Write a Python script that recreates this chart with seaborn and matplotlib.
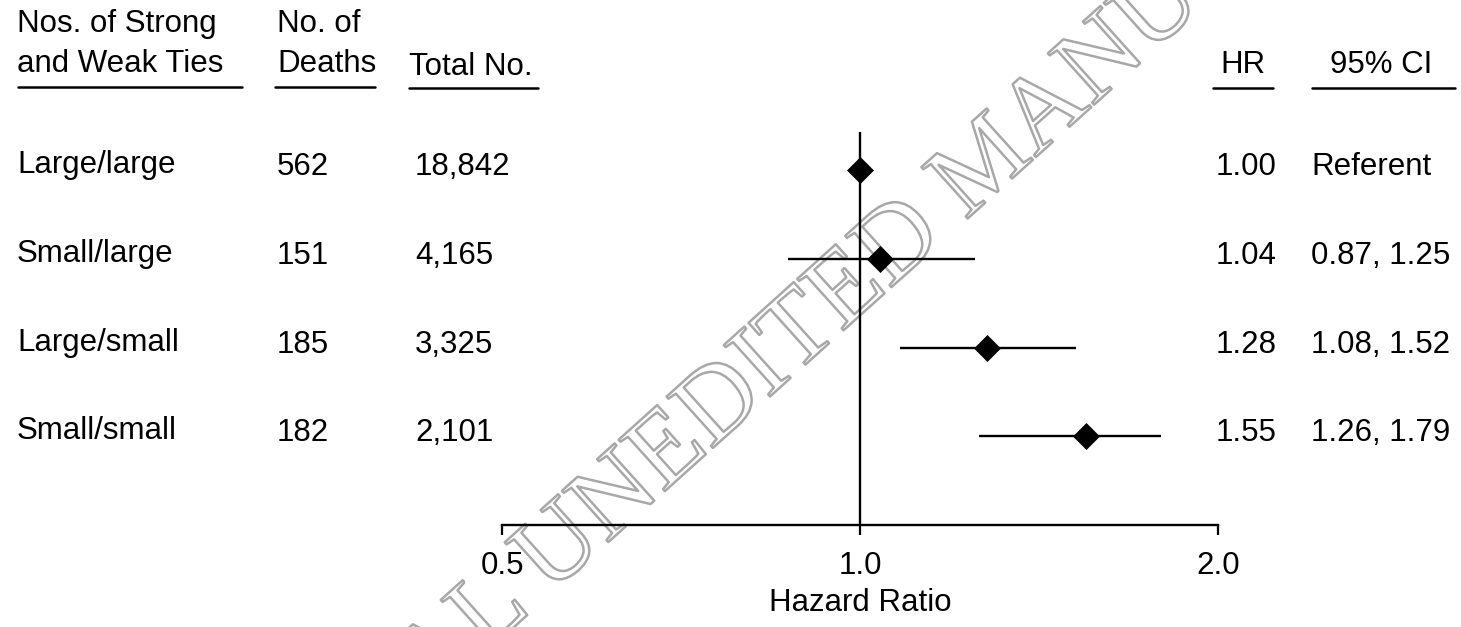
import matplotlib
matplotlib.use("Agg")
import matplotlib.pyplot as plt
import matplotlib.patheffects as pe
from matplotlib.lines import Line2D
from matplotlib.ticker import NullLocator
from matplotlib.transforms import blended_transform_factory, offset_copy
import pandas as pd
import seaborn as sns

# Table / forest-plot data
groups = ["Large/large", "Small/large", "Large/small", "Small/small"]
deaths = [562, 151, 185, 182]
totals = [18842, 4165, 3325, 2101]
hazard_ratio = [1.00, 1.04, 1.28, 1.55]
ci_low = [None, 0.87, 1.08, 1.26]
ci_high = [None, 1.25, 1.52, 1.79]
x_ticks = [0.5, 1.0, 2.0]
x_tick_labels = ["0.5", "1.0", "2.0"]

sns.set_theme(style="white")
plt.rcParams["font.family"] = ["Liberation Sans", "DejaVu Sans"]
plt.rcParams["text.color"] = "black"

W, H = 1461, 627
FS = 22.5
fig = plt.figure(figsize=(W / 100, H / 100), dpi=100)
fig.patch.set_facecolor("white")


def fx(px):
    return px / W


def fy(py):
    return 1 - py / H


# Forest plot panel
ax = fig.add_axes([fx(502), fy(525), (1218 - 502) / W, (525 - 132) / H])
ax.patch.set_alpha(0)
ax.set_xscale("log")

df = pd.DataFrame({
    "group": groups,
    "row": range(len(groups)),
    "hr": hazard_ratio,
    "lo": ci_low,
    "hi": ci_high,
})

ax.axvline(1.0, color="black", lw=1.7, zorder=1)
ci = df.dropna(subset=["lo", "hi"])
ax.hlines(ci["row"], ci["lo"], ci["hi"], color="black", lw=1.7, zorder=2)
sns.scatterplot(data=df, x="hr", y="row", marker="D", s=175, color="black",
                edgecolor="black", linewidth=0.5, zorder=3, legend=False, ax=ax)

ax.set_xlim(0.5, 2.0)
ax.set_ylim(4.0, -0.43)
ax.set_xticks(x_ticks)
ax.set_xticklabels(x_tick_labels)
ax.xaxis.set_minor_locator(NullLocator())
ax.set_yticks([])
ax.set_ylabel("")
ax.tick_params(axis="x", bottom=True, direction="out", length=7, width=1.6,
               pad=12, labelsize=FS, colors="black")
for side in ["top", "right", "left"]:
    ax.spines[side].set_visible(False)
ax.spines["bottom"].set_color("black")
ax.spines["bottom"].set_linewidth(1.7)
ax.set_xlabel("Hazard Ratio", fontsize=FS, color="black", labelpad=5)

# Table columns, aligned to the plot rows
row_tf = blended_transform_factory(fig.transFigure, ax.transData)
label_tf = offset_copy(row_tf, fig=fig, y=-3, units="dots")
num_tf = offset_copy(row_tf, fig=fig, y=-5, units="dots")

for i, g in enumerate(groups):
    fig.text(fx(17), i, g, transform=label_tf, fontsize=FS, va="baseline", ha="left")
    fig.text(fx(277), i, f"{deaths[i]}", transform=num_tf, fontsize=FS, va="baseline", ha="left")
    fig.text(fx(415), i, f"{totals[i]:,}", transform=num_tf, fontsize=FS, va="baseline", ha="left")
    fig.text(fx(1216), i, f"{hazard_ratio[i]:.2f}", transform=num_tf, fontsize=FS,
             va="baseline", ha="left")
    ci_txt = "Referent" if ci_low[i] is None else f"{ci_low[i]:.2f}, {ci_high[i]:.2f}"
    fig.text(fx(1311), i, ci_txt, transform=num_tf, fontsize=FS, va="baseline", ha="left")

# Column headers with underlines
headers = [
    ("Nos. of Strong", 17, 32, "left"),
    ("and Weak Ties", 17, 72, "left"),
    ("No. of", 277, 32, "left"),
    ("Deaths", 277, 72, "left"),
    ("Total No.", 409, 75, "left"),
    ("HR", 1243, 73, "center"),
    ("95% CI", 1381, 73, "center"),
]
for txt, x, y, ha in headers:
    fig.text(fx(x), fy(y), txt, fontsize=FS, va="baseline", ha=ha)

underlines = [(18, 242, 87), (275, 375, 87), (409, 538, 88), (1213, 1273, 88), (1312, 1455, 88)]
for x0, x1, y in underlines:
    fig.add_artist(Line2D([fx(x0), fx(x1)], [fy(y), fy(y)], transform=fig.transFigure,
                          color="black", lw=1.8))

# Diagonal outlined watermark behind the plot
wm = fig.text(fx(795), fy(340), "ORIGINAL UNEDITED MANUSCRIPT", fontsize=76,
              family="Liberation Serif", rotation=42, rotation_mode="anchor",
              ha="center", va="center", color=(1, 1, 1, 0), zorder=-5)
wm.set_path_effects([pe.Stroke(linewidth=1.8, foreground="#a8a8a8")])

fig.savefig("out.png", dpi=100, facecolor="white")
